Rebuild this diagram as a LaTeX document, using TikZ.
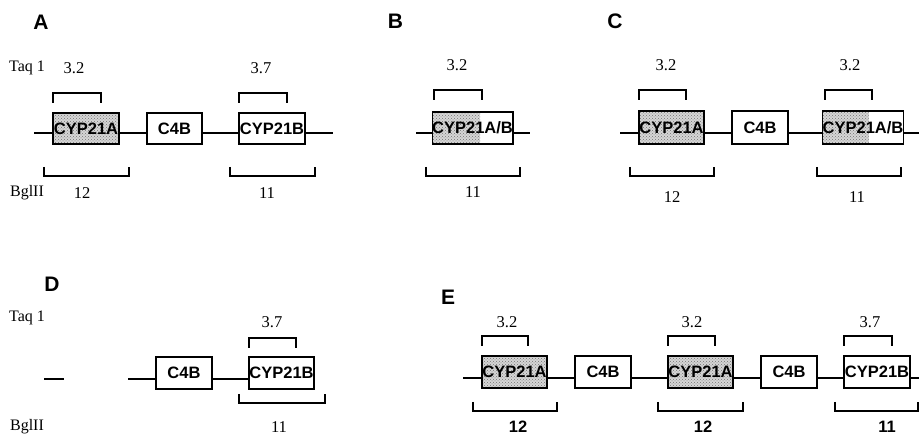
\documentclass[tikz,border=0pt]{standalone}
\usepackage{fontspec}
\setmainfont{Liberation Serif}
\newfontfamily\arialf{Liberation Sans}
\usetikzlibrary{patterns}
\newcommand\taqbr[3]{\draw[br] (#1,#3+10) -- (#1,#3) -- (#2,#3) -- (#2,#3+10);}
\newcommand\bglbr[3]{\draw[br] (#1,#3-9) -- (#1,#3) -- (#2,#3) -- (#2,#3-9);}
\begin{document}
\begin{tikzpicture}[x=1pt,y=-1pt,
  gene/.style={draw, line width=1.3pt, fill=white, minimum height=31pt, inner sep=0pt,
    font=\arialf\bfseries\fontsize{16.5}{17}\selectfont},
  dotfill/.style={fill=black!16, postaction={pattern=crosshatch dots, pattern color=black!55}},
  shaded/.style={gene, path picture={\fill[dotfill] (path picture bounding box.north west) rectangle (path picture bounding box.south east);}},
  hybrid/.style={gene, path picture={\fill[dotfill] (path picture bounding box.north west) rectangle ([xshift=#1]path picture bounding box.south west);}},
  bb/.style={line width=1.1pt},
  br/.style={line width=1.4pt},
  num/.style={inner sep=0pt, font=\fontsize{16.5}{18}\selectfont},
  snum/.style={inner sep=0pt, font=\arialf\bfseries\fontsize{16.5}{18}\selectfont},
  lab/.style={inner sep=0pt, font=\arialf\bfseries\fontsize{21}{23}\selectfont},
  side/.style={inner sep=0pt, font=\fontsize{16}{18}\selectfont}
]
\useasboundingbox (0,0) rectangle (919,435);
\fill[white] (0,0) rectangle (919,435);

% ---------- Panel A ----------
\node[lab] (LA) at (41,22) {A};
\node[side] (taqA) at (27,68) {Taq 1};
\node[side] (bglA) at (27,193) {BglII};
\coordinate (a0) at (34,133);
\coordinate (a9) at (333,133);
\draw[bb] (a0) -- (a9);
\node[shaded, minimum width=66pt] (a1) at (86,128.5) {CYP21A};
\node[gene, minimum width=55pt] (a2) at (174.5,128.5) {C4B};
\node[gene, minimum width=66pt] (a3) at (272,128.5) {CYP21B};
\taqbr{53}{101}{93}
\taqbr{239}{287}{93}
\bglbr{44}{129}{176}
\bglbr{230}{315}{176}
\node[num] (tA1) at (74,68) {3.2};
\node[num] (tA2) at (261,68) {3.7};
\node[num] (gA1) at (82,193) {12};
\node[num] (gA2) at (267,193) {11};

% ---------- Panel B ----------
\node[lab] (LB) at (395.5,21) {B};
\coordinate (b0) at (416,133);
\coordinate (b9) at (530,133);
\draw[bb] (b0) -- (b9);
\node[hybrid=48pt, minimum width=77pt, minimum height=32pt] (b1) at (472.5,128) {CYP21A/B};
\taqbr{434}{482}{90}
\bglbr{426}{520}{176}
\node[num] (tB1) at (457,65) {3.2};
\node[num] (gB1) at (473,192) {11};

% ---------- Panel C ----------
\node[lab] (LC) at (615,21) {C};
\coordinate (c0) at (620,133);
\coordinate (c9) at (919,133);
\draw[bb] (c0) -- (c9);
\node[shaded, minimum width=65pt, minimum height=33pt] (c1) at (671.5,127.5) {CYP21A};
\node[gene, minimum width=56pt, minimum height=33pt] (c2) at (760,127.5) {C4B};
\node[hybrid=46pt, minimum width=76pt, minimum height=33pt] (c3) at (863,127.5) {CYP21A/B};
\taqbr{639}{686}{90}
\taqbr{825}{872}{90}
\bglbr{630}{714}{176}
\bglbr{817}{901}{176}
\node[num] (tC1) at (666,65) {3.2};
\node[num] (tC2) at (850,65) {3.2};
\node[num] (gC1) at (672,197) {12};
\node[num] (gC2) at (857,197) {11};

% ---------- Panel D ----------
\node[lab] (LD) at (52,284) {D};
\node[side] (taqD) at (27,318) {Taq 1};
\node[side] (bglD) at (27,427) {BglII};
\coordinate (dd0) at (44,379);
\coordinate (dd1) at (64,379);
\draw[bb] (dd0) -- (dd1);
\coordinate (d0) at (128,379);
\node[gene, minimum width=56pt, minimum height=32pt] (d1) at (184,373) {C4B};
\node[gene, minimum width=65pt, minimum height=32pt] (d2) at (281.5,373) {CYP21B};
\draw[bb] (d0) -- (d0 -| d1.west);
\draw[bb] (d0 -| d1.east) -- (d0 -| d2.west);
\taqbr{249}{296}{338}
\bglbr{239}{325}{403}
\node[num] (tD1) at (272,322) {3.7};
\node[num] (gD1) at (279,427) {11};

% ---------- Panel E ----------
\node[lab] (LE) at (448,297.5) {E};
\coordinate (e0) at (463,378);
\coordinate (e9) at (919,378);
\draw[bb] (e0) -- (e9);
\node[shaded, minimum width=65pt, minimum height=32pt] (e1) at (514.5,372) {CYP21A};
\node[gene, minimum width=56pt, minimum height=32pt] (e2) at (603,372) {C4B};
\node[shaded, minimum width=65pt, minimum height=32pt] (e3) at (700.5,372) {CYP21A};
\node[gene, minimum width=56pt, minimum height=32pt] (e4) at (789,372) {C4B};
\node[gene, minimum width=66pt, minimum height=32pt] (e5) at (877,372) {CYP21B};
\taqbr{482}{528}{336}
\taqbr{668}{715}{336}
\taqbr{844}{892}{336}
\bglbr{473}{557}{411}
\bglbr{658}{743}{411}
\bglbr{835}{918}{411}
\node[num] (tE1) at (507,322) {3.2};
\node[num] (tE2) at (692,322) {3.2};
\node[num] (tE3) at (870,322) {3.7};
\node[snum] (gE1) at (518,427) {12};
\node[snum] (gE2) at (703,427) {12};
\node[snum] (gE3) at (887,427) {11};
\end{tikzpicture}
\end{document}
